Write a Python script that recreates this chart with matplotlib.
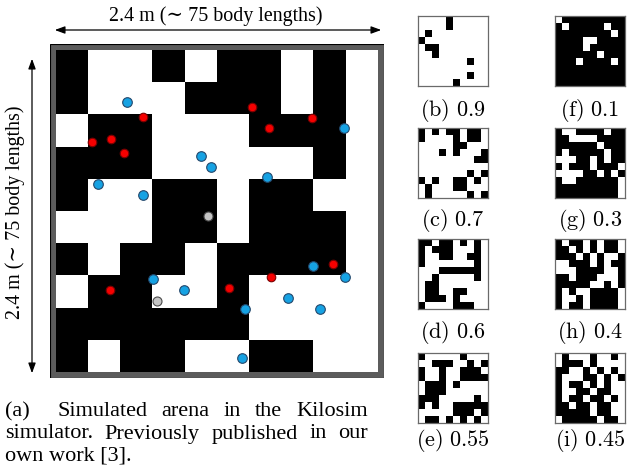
import numpy as np
import matplotlib
matplotlib.use('Agg')
import matplotlib.pyplot as plt
from matplotlib.patches import Rectangle, FancyArrowPatch

W, H = 629, 474
plt.rcParams['mathtext.fontset'] = 'cm'
SERIF = ['Liberation Serif', 'DejaVu Serif']

# Arena tiles (1 = black), row 0 at the top
arena = [
    "1001011010",
    "1000111010",
    "0110001110",
    "1110000010",
    "1001101100",
    "0001101110",
    "1011011110",
    "0110010000",
    "1111110000",
    "1011001100",
]

# Robot positions in tile units (x right, y down)
blue_x = [2.22, 8.93, 4.51, 4.81, 6.54, 1.29, 2.70, 7.99, 8.99, 3.00, 3.99, 7.21, 5.86, 8.19, 5.79]
blue_y = [1.60, 2.43, 3.30, 3.64, 3.95, 4.17, 4.50, 6.72, 7.05, 7.11, 7.45, 7.71, 8.04, 8.04, 9.57]
red_x = [6.10, 2.70, 7.94, 6.62, 1.11, 1.72, 2.10, 8.60, 6.67, 1.68, 5.36]
red_y = [1.77, 2.08, 2.11, 2.43, 2.85, 2.77, 3.19, 6.64, 7.05, 7.45, 7.38]
grey_x = [4.72, 3.15]
grey_y = [5.17, 7.81]

# Example arenas for different fill ratios (1 = black)
grid_b = ["0000100000", "0000100000", "0100000000", "1000000000", "0110000000",
          "0010000000", "0000000100", "0000000000", "0000000100", "0000010000"]
grid_c = ["1010110110", "1000010110", "0000011000", "0001010001", "0000000011",
          "0000000000", "0000000101", "1010011010", "0100011000", "0100000101"]
grid_d = ["1101101010", "1011100010", "1001100110", "1000000010", "0001111110",
          "0010000010", "0110000000", "0110011000", "0111010000", "1000011100"]
grid_e = ["1000001000", "0011100101", "1001001110", "1001001111", "0111010000",
          "0111000000", "1110000010", "1010011111", "0000011101", "0110101010"]
grid_f = ["0111111111", "1011111011", "1111111101", "1111001111", "1111011111",
          "1111110111", "1110111101", "1111111111", "1111111111", "1111111111"]
grid_g = ["1001111011", "1100001111", "1111110111", "1011111011", "0001101011",
          "1011101110", "0000110101", "1001111110", "1111111110", "1111111110"]
grid_h = ["1011010110", "1101010110", "1110101001", "0011101011", "0001111001",
          "1101110001", "1111100101", "1010011110", "1001011110", "1011011110"]
grid_i = ["0100010010", "0111010000", "1100101010", "1000110101", "1011010100",
          "1001101100", "1011011010", "1101101100", "1111101100", "0111110110"]

left_grids = [grid_b, grid_c, grid_d, grid_e]
right_grids = [grid_f, grid_g, grid_h, grid_i]
left_labels = ["(b)", "(c)", "(d)", "(e)"]
right_labels = ["(f)", "(g)", "(h)", "(i)"]
left_ratio = ["0.9", "0.7", "0.6", "0.55"]
right_ratio = ["0.1", "0.3", "0.4", "0.45"]

caption_lines = [
    ["(a)", "Simulated", "arena", "in", "the", "Kilosim"],
    ["simulator.", "Previously", "published", "in", "our"],
]
caption_last = "own work [3]."
dim_text = "2.4 m (\u223c 75 body lengths)"


def to_grid(rows):
    return np.array([[int(c) for c in r] for r in rows])


def px_axes(fig, x, y, w, h):
    return fig.add_axes([x / W, 1 - (y + h) / H, w / W, h / H])


fig = plt.figure(figsize=(W / 100, H / 100), dpi=100)

# main arena
ax = px_axes(fig, 50, 44, 334, 334)
f = 6 / 32.2
ax.add_patch(Rectangle((-f, -f), 10 + 2 * f, 10 + 2 * f, facecolor='#5c5c5c',
                       edgecolor='black', lw=0.8, zorder=1))
ax.imshow(to_grid(arena), cmap='gray_r', vmin=0, vmax=1, extent=(0, 10, 10, 0),
          interpolation='nearest', zorder=2)
ax.scatter(blue_x, blue_y, s=48, color='#16a2e3', edgecolor='#23476b', lw=0.8, zorder=3)
ax.scatter(red_x, red_y, s=38, color='#f50000', edgecolor='#7a0000', lw=0.8, zorder=3)
ax.scatter(grey_x, grey_y, s=42, color='#c4c4c4', edgecolor='#4a4a4a', lw=0.8, zorder=3)
ax.set_xlim(-f, 10 + f)
ax.set_ylim(10 + f, -f)
ax.axis('off')

# small grids
small_x = [418, 555]
small_y = [16, 128, 239, 353]
label_y = [110, 221, 332, 441]
for col, (grids, labs, ratios) in enumerate([(left_grids, left_labels, left_ratio),
                                             (right_grids, right_labels, right_ratio)]):
    for row in range(4):
        sax = px_axes(fig, small_x[col], small_y[row], 70, 70)
        sax.imshow(to_grid(grids[row]), cmap='gray_r', vmin=0, vmax=1,
                   interpolation='nearest', aspect='auto')
        sax.set_xticks([])
        sax.set_yticks([])
        for sp in sax.spines.values():
            sp.set_color('#6a6a6a')
            sp.set_linewidth(0.9)
        fig.text((small_x[col] + 35) / W, 1 - label_y[row] / H,
                 r'$\mathrm{%s\ %s}$' % (labs[row], ratios[row]),
                 ha='center', va='center', fontsize=16)

# dimension arrows
arr = dict(arrowstyle='<|-|>,head_length=6,head_width=2.2', mutation_scale=1,
           lw=0.9, color='black', transform=fig.transFigure)
fig.add_artist(FancyArrowPatch((52 / W, 1 - 30 / H), (384 / W, 1 - 30 / H), **arr))
fig.add_artist(FancyArrowPatch((32 / W, 1 - 56 / H), (32 / W, 1 - 376 / H), **arr))
fig.text(216 / W, 1 - 16 / H, dim_text, ha='center', va='center', fontsize=14.4, family=SERIF)
fig.text(15 / W, 1 - 212 / H, dim_text, ha='center', va='center', rotation=90,
         fontsize=14.4, family=SERIF)

# justified caption
renderer = fig.canvas.get_renderer()
cap_left, cap_right = 5, 368
cap_y = [412, 434]
cap_size = 16
for words, yy in zip(caption_lines, cap_y):
    texts = [fig.text(0, 1 - yy / H, w, ha='left', va='center', fontsize=cap_size, family=SERIF)
             for w in words]
    widths = [t.get_window_extent(renderer).width for t in texts]
    weights = [2.0] + [1.0] * (len(words) - 2) if words[0] == "(a)" else [1.0] * (len(words) - 1)
    gap = (cap_right - cap_left - sum(widths)) / sum(weights)
    x = cap_left
    for i, t in enumerate(texts):
        t.set_x(x / W)
        if i < len(weights):
            x += widths[i] + gap * weights[i]
fig.text(cap_left / W, 1 - 456 / H, caption_last, ha='left', va='center',
         fontsize=cap_size, family=SERIF)

fig.savefig('out.png', dpi=100)
